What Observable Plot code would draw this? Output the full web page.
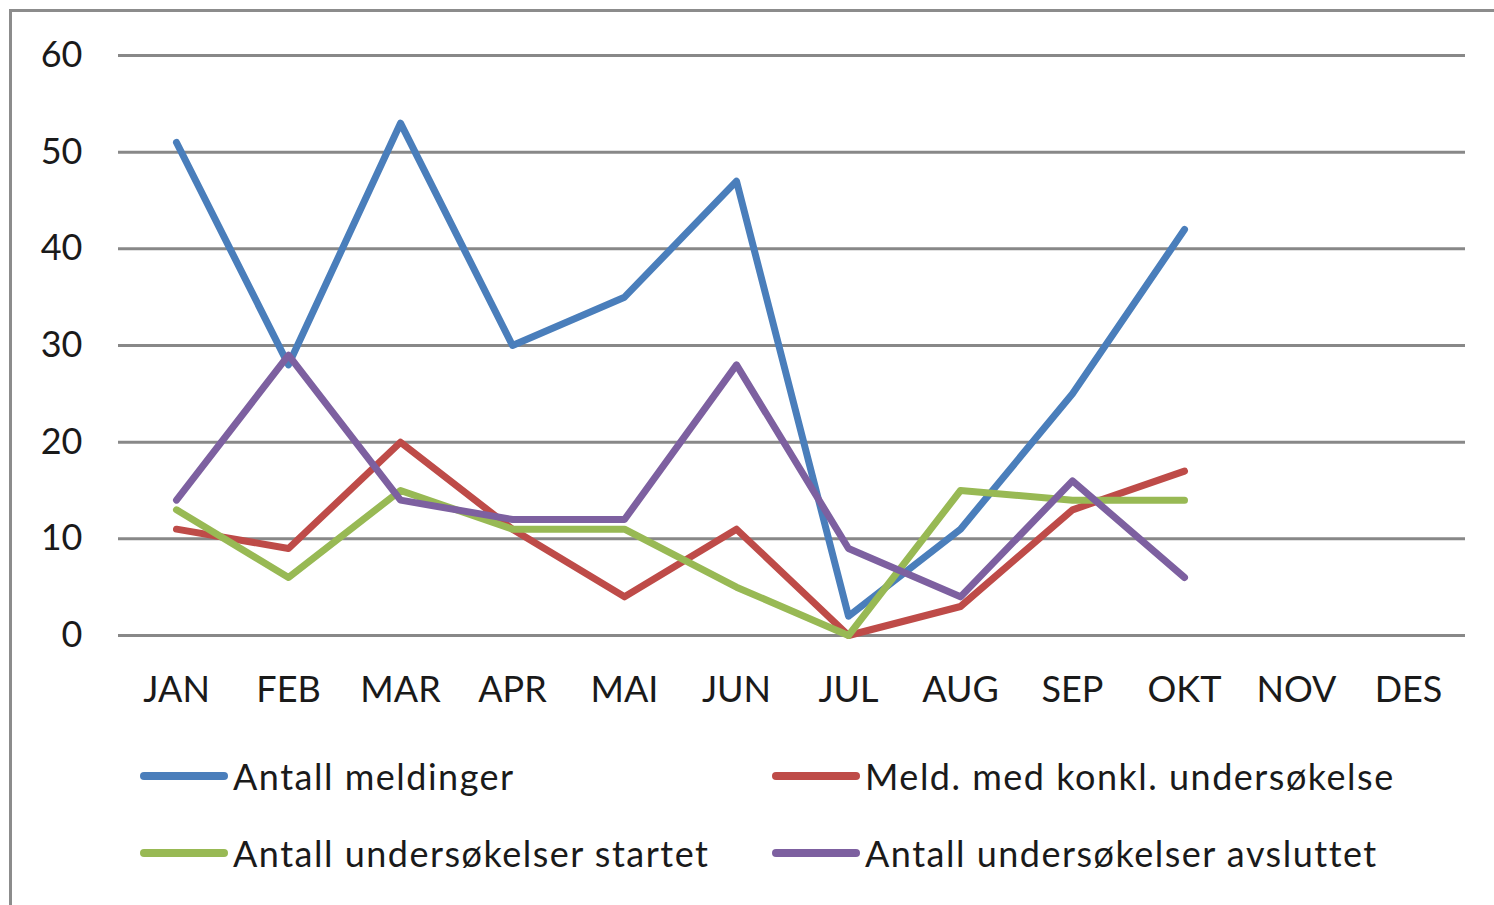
<!DOCTYPE html>
<html>
<head>
<meta charset="utf-8">
<script src="https://cdn.jsdelivr.net/npm/d3@7"></script>
<script src="https://cdn.jsdelivr.net/npm/@observablehq/plot@0.6"></script>
<style>
  html, body { margin: 0; padding: 0; background: #fff; width: 1494px; height: 905px; overflow: hidden; font-family: Lato, "Open Sans", sans-serif; }
  #wrap { position: relative; width: 1494px; height: 905px; }
  #frameL { position: absolute; left: 9px; top: 9px; width: 3px; height: 900px; background: #8c8c8c; }
  #frameT { position: absolute; left: 9px; top: 9px; width: 1490px; height: 3px; background: #8c8c8c; }
  #chart { position: absolute; left: 0; top: 0; }
  .leg { position: absolute; display: flex; align-items: center; font-size: 36px; letter-spacing: 1.5px; color: #1a1a1a; white-space: nowrap; }
  .sw { width: 88px; height: 8px; border-radius: 4px; margin-right: 5px; }
</style>
</head>
<body>
<div id="wrap">
  <div id="chart"></div>
  <div id="frameL"></div>
  <div id="frameT"></div>
  <div id="legend"></div>
</div>
<script>
const months = ["JAN","FEB","MAR","APR","MAI","JUN","JUL","AUG","SEP","OKT","NOV","DES"];
const seriesNames = ["Antall meldinger","Meld. med konkl. undersøkelse","Antall undersøkelser startet","Antall undersøkelser avsluttet"];
const colors = ["#4A7EBB","#BE4B48","#98B954","#7D60A0"];
const antallMeldinger = [51, 28, 53, 30, 35, 47, 2, 11, 25, 42, null, null];
const meldKonkl       = [11, 9, 20, 11, 4, 11, 0, 3, 13, 17, null, null];
const undersStartet   = [13, 6, 15, 11, 11, 5, 0, 15, 14, 14, null, null];
const undersAvsluttet = [14, 29, 14, 12, 12, 28, 9, 4, 16, 6, null, null];
const yTicks = [0, 10, 20, 30, 40, 50, 60];

const allSeries = [antallMeldinger, meldKonkl, undersStartet, undersAvsluttet];
const rows = [];
allSeries.forEach((vals, s) => {
  vals.forEach((v, i) => { if (v != null) rows.push({series: seriesNames[s], month: months[i], value: v}); });
});

const chart = Plot.plot({
  width: 1494,
  height: 730,
  marginLeft: 118,
  marginRight: 29,
  marginTop: 55,
  marginBottom: 95,
  style: { fontFamily: "Lato, 'Open Sans', sans-serif", fontSize: "36px", color: "#1a1a1a", background: "transparent" },
  x: { type: "point", domain: months, padding: 0.5, label: null },
  y: { domain: [0, 60], label: null },
  color: { domain: seriesNames, range: colors },
  marks: [
    Plot.ruleY(yTicks, { stroke: "#888", strokeWidth: 3 }),
    Plot.axisY({ ticks: yTicks, tickSize: 0, tickPadding: 36, label: null, fontSize: 36, fill: "#1a1a1a" }),
    Plot.axisX({ tickSize: 0, tickPadding: 41, label: null, fontSize: 36, fill: "#1a1a1a" }),
    Plot.line(rows, { x: "month", y: "value", z: "series", stroke: "series", strokeWidth: 7, strokeLinecap: "round", strokeLinejoin: "round" })
  ]
});
document.getElementById("chart").appendChild(chart);

const legPos = [[140, 776], [772, 776], [140, 853], [772, 853]];
const legend = document.getElementById("legend");
seriesNames.forEach((name, i) => {
  const d = document.createElement("div");
  d.className = "leg";
  d.style.left = legPos[i][0] + "px";
  d.style.top = (legPos[i][1] - 22) + "px";
  d.style.height = "44px";
  const sw = document.createElement("div");
  sw.className = "sw";
  sw.style.background = colors[i];
  const t = document.createElement("span");
  t.textContent = name;
  d.appendChild(sw); d.appendChild(t);
  legend.appendChild(d);
});
</script>
</body>
</html>
